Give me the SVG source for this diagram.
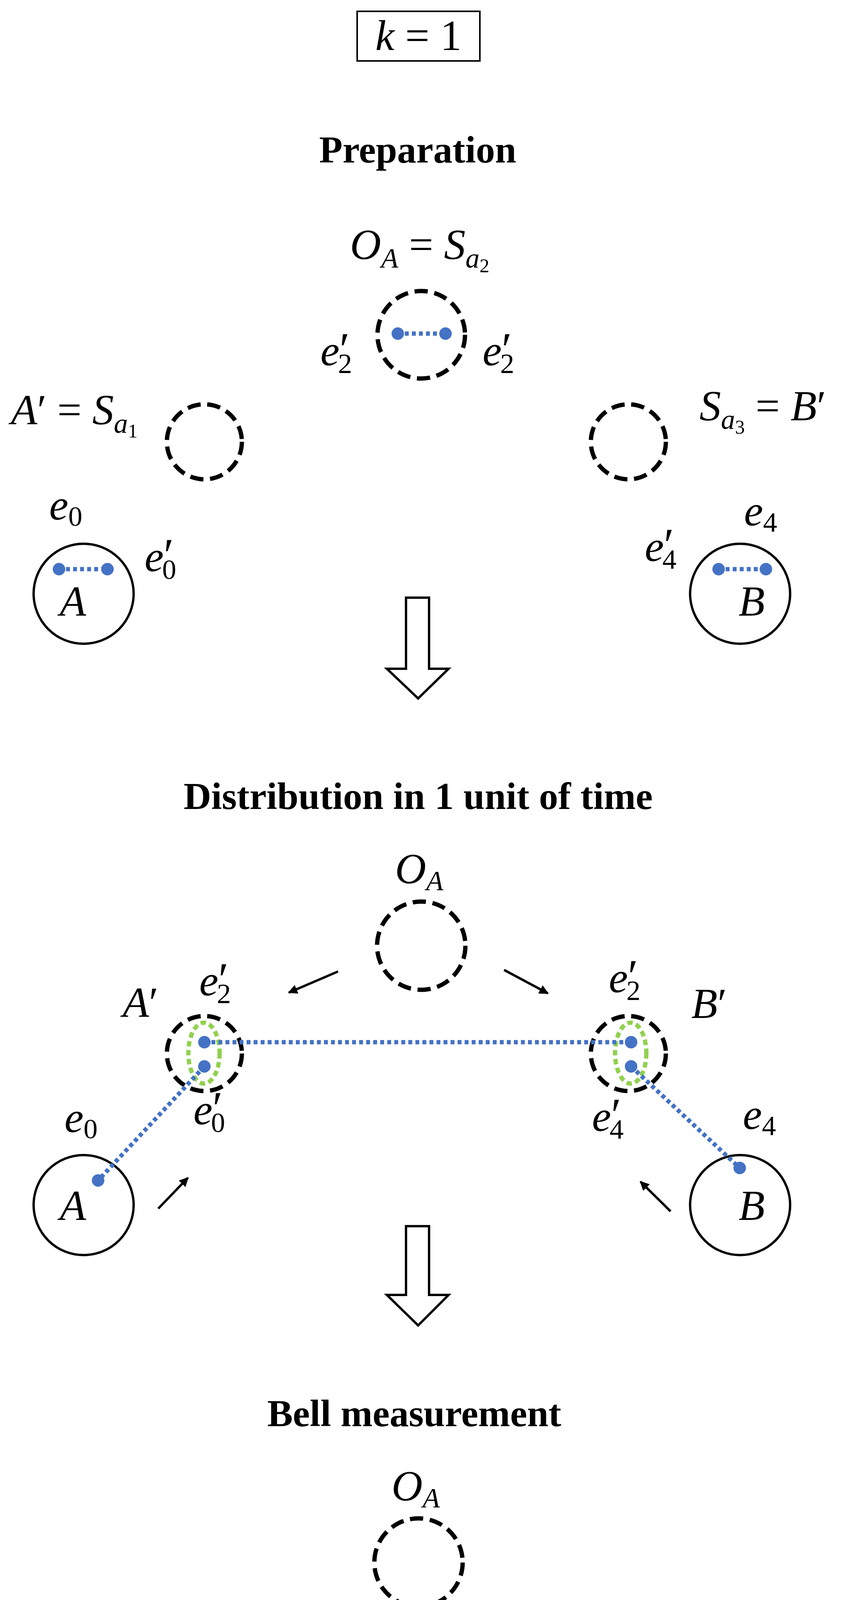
<svg xmlns="http://www.w3.org/2000/svg" width="2188" height="4828" viewBox="0 0 2188 4828">
<style>
.m{font-family:"Liberation Serif","DejaVu Serif",serif;font-style:italic;font-size:110px;fill:#000}
.r{font-style:normal}
.s{font-size:72px}
.p{font-style:normal;font-size:120px}
.t{font-family:"Liberation Serif","DejaVu Serif",serif;font-weight:bold;font-size:98px;text-anchor:middle}
.dc{fill:none;stroke:#000;stroke-width:11;stroke-dasharray:34 17}
.sc{fill:none;stroke:#000;stroke-width:6}
.bl{stroke:#4472C4;stroke-width:11;stroke-dasharray:10 8;fill:none}
.gr{fill:none;stroke:#92D050;stroke-width:11;stroke-dasharray:14 9}
.dot{fill:#4472C4}
.ar{stroke:#000;stroke-width:6;fill:none}
.ha{fill:#fff;stroke:#000;stroke-width:6}
</style>
<defs>
<marker id="ah" viewBox="0 0 10 10" refX="9" refY="5" markerWidth="4" markerHeight="4" orient="auto"><path d="M0,0 L10,5 L0,10 z" fill="#000"/></marker>
</defs>

<g id="title">
<rect x="914" y="29" width="314" height="127" fill="none" stroke="#000" stroke-width="4"/>
<text class="m" x="1071" y="128" text-anchor="middle" font-size="112">k <tspan class="r">= 1</tspan></text>
</g>

<!-- Section 1 -->
<text class="t" x="1069" y="416">Preparation</text>
<g id="s1-OA">
<text class="m" x="1074" y="663" text-anchor="middle">O<tspan class="s" dy="22">A</tspan><tspan class="r" dy="-22"> = </tspan>S<tspan class="s" dy="22">a</tspan><tspan class="r" font-size="50" dy="12">2</tspan></text>
<circle class="dc" cx="1078" cy="857" r="112"/>
<line class="bl" x1="1018" y1="854" x2="1140" y2="854"/>
<circle class="dot" cx="1018" cy="854" r="16"/><circle class="dot" cx="1140" cy="854" r="16"/>
<text class="m" x="820" y="935">e<tspan class="p">′</tspan><tspan class="r s" dx="-30" dy="20">2</tspan></text>
<text class="m" x="1235" y="935">e<tspan class="p">′</tspan><tspan class="r s" dx="-30" dy="20">2</tspan></text>
</g>
<g id="s1-Ap">
<text class="m" x="28" y="1086">A<tspan class="r">′ = </tspan>S<tspan class="s" dy="22">a</tspan><tspan class="r" font-size="50" dy="12">1</tspan></text>
<circle class="dc" cx="523" cy="1131" r="96"/>
</g>
<g id="s1-Bp">
<circle class="dc" cx="1608" cy="1131" r="96"/>
<text class="m" x="1790" y="1076">S<tspan class="s" dy="22">a</tspan><tspan class="r" font-size="50" dy="12">3</tspan><tspan class="r" dy="-34"> = </tspan>B<tspan class="r">′</tspan></text>
</g>
<g id="s1-A">
<circle class="sc" cx="214" cy="1520" r="128"/>
<line class="bl" x1="151" y1="1457" x2="275" y2="1457"/>
<circle class="dot" cx="151" cy="1457" r="16"/><circle class="dot" cx="275" cy="1457" r="16"/>
<text class="m" x="153" y="1576">A</text>
<text class="m" x="126" y="1330">e<tspan class="r s" dy="16">0</tspan></text>
<text class="m" x="370" y="1462">e<tspan class="p">′</tspan><tspan class="r s" dx="-30" dy="20">0</tspan></text>
</g>
<g id="s1-B">
<circle class="sc" cx="1894" cy="1520" r="128"/>
<line class="bl" x1="1839" y1="1457" x2="1960" y2="1457"/>
<circle class="dot" cx="1839" cy="1457" r="16"/><circle class="dot" cx="1960" cy="1457" r="16"/>
<text class="m" x="1890" y="1576">B</text>
<text class="m" x="1904" y="1345">e<tspan class="r s" dy="16">4</tspan></text>
<text class="m" x="1650" y="1436">e<tspan class="p">′</tspan><tspan class="r s" dx="-30" dy="20">4</tspan></text>
</g>
<polygon id="harrow1" class="ha" points="1039,1530 1098,1530 1098,1712 1148,1712 1070,1788 990,1712 1039,1712"/>

<!-- Section 2 -->
<text class="t" x="1070" y="2071">Distribution in 1 unit of time</text>
<g id="s2-OA">
<text class="m" x="1011" y="2261" font-size="92">O<tspan class="s" font-size="60" dy="18">A</tspan></text>
<circle class="dc" cx="1078" cy="2421" r="113"/>
</g>
<g id="s2-Ap">
<circle class="dc" cx="523" cy="2697" r="96"/>
<ellipse class="gr" cx="522" cy="2696" rx="40" ry="78"/>
<text class="m" x="314" y="2603">A<tspan class="r">′</tspan></text>
<text class="m" x="510" y="2548">e<tspan class="p">′</tspan><tspan class="r s" dx="-30" dy="20">2</tspan></text>
<text class="m" x="495" y="2878">e<tspan class="p">′</tspan><tspan class="r s" dx="-30" dy="20">0</tspan></text>
</g>
<g id="s2-Bp">
<circle class="dc" cx="1608" cy="2697" r="96"/>
<ellipse class="gr" cx="1614" cy="2696" rx="40" ry="78"/>
<text class="m" x="1769" y="2606">B<tspan class="r">′</tspan></text>
<text class="m" x="1558" y="2540">e<tspan class="p">′</tspan><tspan class="r s" dx="-30" dy="20">2</tspan></text>
<text class="m" x="1515" y="2895">e<tspan class="p">′</tspan><tspan class="r s" dx="-30" dy="20">4</tspan></text>
</g>
<g id="s2-A">
<circle class="sc" cx="214" cy="3085" r="128"/>
<text class="m" x="153" y="3123">A</text>
<text class="m" x="165" y="2898">e<tspan class="r s" dy="16">0</tspan></text>
</g>
<g id="s2-B">
<circle class="sc" cx="1894" cy="3085" r="128"/>
<text class="m" x="1890" y="3123">B</text>
<text class="m" x="1901" y="2890">e<tspan class="r s" dy="16">4</tspan></text>
</g>
<g id="connectors">
<line class="bl" x1="523" y1="2668" x2="1615" y2="2668"/>
<line class="bl" x1="523" y1="2730" x2="251" y2="3022"/>
<line class="bl" x1="1615" y1="2730" x2="1893" y2="2990"/>
<line class="ar" x1="865" y1="2487" x2="739" y2="2541" marker-end="url(#ah)"/>
<line class="ar" x1="1290" y1="2483" x2="1402" y2="2543" marker-end="url(#ah)"/>
<line class="ar" x1="405" y1="3094" x2="481" y2="3015" marker-end="url(#ah)"/>
<line class="ar" x1="1716" y1="3101" x2="1639" y2="3025" marker-end="url(#ah)"/>
<line class="bl" x1="244" y1="4604" x2="1853" y2="4605"/>
</g>
<g id="s2-dots">
<circle class="dot" cx="523" cy="2668" r="16"/><circle class="dot" cx="523" cy="2730" r="16"/>
<circle class="dot" cx="1615" cy="2668" r="16"/><circle class="dot" cx="1615" cy="2730" r="16"/>
<circle class="dot" cx="251" cy="3022" r="16"/><circle class="dot" cx="1893" cy="2990" r="16"/>
</g>
<polygon id="harrow2" class="ha" points="1039,3139 1098,3139 1098,3315 1148,3315 1070,3393 990,3315 1039,3315"/>

<!-- Section 3 -->
<text class="t" x="1060" y="3651">Bell measurement</text>
<g id="s3-OA">
<text class="m" x="1002" y="3841" font-size="92">O<tspan class="s" font-size="60" dy="18">A</tspan></text>
<circle class="dc" cx="1071" cy="4000" r="113"/>
</g>
<g id="s3-Ap">
<text class="m" x="286" y="4236">A<tspan class="r">′</tspan></text>
<circle class="dc" cx="514" cy="4277" r="95"/>
</g>
<g id="s3-Bp">
<circle class="dc" cx="1599" cy="4277" r="95"/>
<text class="m" x="1760" y="4241">B<tspan class="r">′</tspan></text>
</g>
<g id="s3-A">
<circle class="sc" cx="204" cy="4664" r="128"/>
<circle class="dot" cx="244" cy="4604" r="16"/>
<text class="m" x="146" y="4714">A</text>
<text class="m" x="165" y="4475">e<tspan class="r s" dy="16">0</tspan></text>
</g>
<g id="s3-B">
<circle class="sc" cx="1885" cy="4664" r="128"/>
<circle class="dot" cx="1853" cy="4605" r="16"/>
<text class="m" x="1883" y="4714">B</text>
<text class="m" x="1853" y="4464">e<tspan class="r s" dy="16">4</tspan></text>
</g>
</svg>
